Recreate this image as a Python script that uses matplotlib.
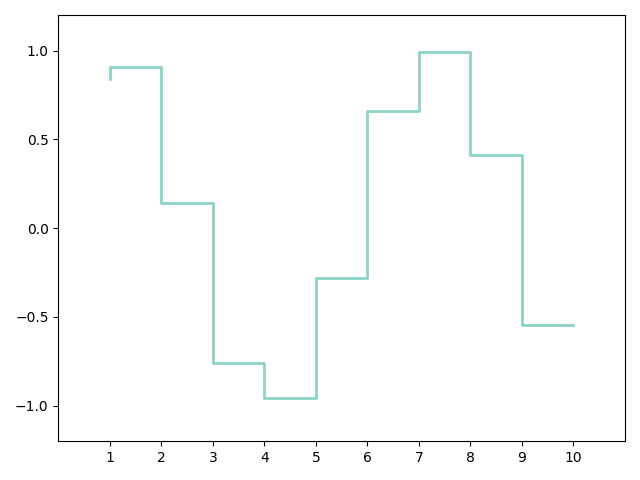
import matplotlib.pyplot as plt

x = [1, 2, 3, 4, 5, 6, 7, 8, 9, 10]
y = [0.841, 0.909, 0.141, -0.757, -0.959, -0.279, 0.657, 0.989, 0.412, -0.544]

fig, ax = plt.subplots(figsize=(6.4, 4.8), dpi=100)
ax.step(x, y, where='pre', color='#8dd3c7', linewidth=2)

ax.set_xlim(0, 11)
ax.set_ylim(-1.2, 1.2)
ax.set_xticks(x)
ax.set_yticks([-1.0, -0.5, 0.0, 0.5, 1.0])

fig.tight_layout()
fig.savefig('out.png')
